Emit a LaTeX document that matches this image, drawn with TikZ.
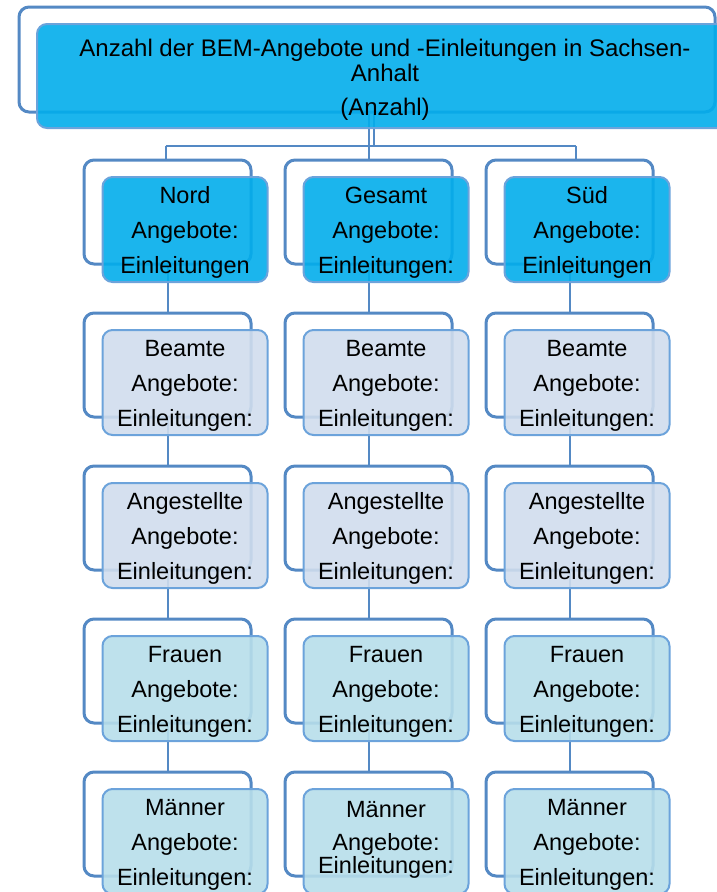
\documentclass[tikz,border=0pt]{standalone}
\usepackage{fontspec}
\setmainfont{Liberation Sans}

\definecolor{frameblue}{RGB}{84,137,196}
\definecolor{edgeblue}{RGB}{108,163,219}
\definecolor{headcyan}{RGB}{2,173,235}
\definecolor{staffgray}{RGB}{208,221,237}
\definecolor{genderteal}{RGB}{183,222,234}

\begin{document}
\begin{tikzpicture}[x=1pt, y=-1pt,
  backframe/.style={draw=frameblue, line width=3pt, rounded corners=10pt,
    minimum width=167pt, minimum height=104pt, inner sep=0pt},
  link/.style={draw=frameblue, line width=2pt},
  unitbox/.style={draw=edgeblue, line width=2pt, rounded corners=10pt,
    fill opacity=.9, text opacity=1, align=center, inner sep=0pt,
    minimum width=165pt, text height=96.5pt, text depth=8.5pt,
    font=\fontsize{23.5}{35}\selectfont},
  headbox/.style={unitbox, fill=headcyan},
  staffbox/.style={unitbox, fill=staffgray},
  genderbox/.style={unitbox, fill=genderteal}]
\useasboundingbox (0,0) rectangle (717,892);

% Frames behind the boxes
\node[backframe, minimum width=696pt, minimum height=105pt] (titleF) at (367,59.5) {};

\node[backframe] (nordF) at (167.5,212) {};
\node[backframe] (nordbeamteF) at (167.5,365) {};
\node[backframe] (nordangestF) at (167.5,518) {};
\node[backframe] (nordfrauenF) at (167.5,671) {};
\node[backframe] (nordmaennerF) at (167.5,824) {};

\node[backframe] (gesamtF) at (368.5,212) {};
\node[backframe] (gesamtbeamteF) at (368.5,365) {};
\node[backframe] (gesamtangestF) at (368.5,518) {};
\node[backframe] (gesamtfrauenF) at (368.5,671) {};
\node[backframe] (gesamtmaennerF) at (368.5,824) {};

\node[backframe] (suedF) at (569.5,212) {};
\node[backframe] (suedbeamteF) at (569.5,365) {};
\node[backframe] (suedangestF) at (569.5,518) {};
\node[backframe] (suedfrauenF) at (569.5,671) {};
\node[backframe] (suedmaennerF) at (569.5,824) {};

% Branches below the title
\coordinate (riser) at (374,146);
\coordinate (barL) at (165.5,146);
\coordinate (barR) at (575.5,146);
\draw[link] (titleF.south -| gesamtF.north) -- (gesamtF.north);
\draw[link] (riser |- titleF.south) -- (riser);
\draw[link, line width=2.5pt] (barL) -- (barR);
\draw[link] (barL) -- (barL |- nordF.north);
\draw[link] (barR) -- (barR |- suedF.north);

% Columns
\draw[link] (nordF.south) -- (nordbeamteF.north);
\draw[link] (nordbeamteF.south) -- (nordangestF.north);
\draw[link] (nordangestF.south) -- (nordfrauenF.north);
\draw[link] (nordfrauenF.south) -- (nordmaennerF.north);

\draw[link] (gesamtF.south) -- (gesamtbeamteF.north);
\draw[link] (gesamtbeamteF.south) -- (gesamtangestF.north);
\draw[link] (gesamtangestF.south) -- (gesamtfrauenF.north);
\draw[link] (gesamtfrauenF.south) -- (gesamtmaennerF.north);

\draw[link] (suedF.south) -- (suedbeamteF.north);
\draw[link] (suedbeamteF.south) -- (suedangestF.north);
\draw[link] (suedangestF.south) -- (suedfrauenF.north);
\draw[link] (suedfrauenF.south) -- (suedmaennerF.north);

% Title box
\node[headbox, minimum width=696pt, text height=91.6pt, text depth=12.4pt,
  font=\fontsize{24}{25}\selectfont]
  (title) at (385,76)
  {Anzahl der BEM-Angebote und -Einleitungen in Sachsen-\\Anhalt\\[9pt](Anzahl)};

% Nord
\node[headbox] (nord) at (185,229.5) {Nord\\Angebote:\\Einleitungen};
\node[staffbox] (nordbeamte) at (185,382.5) {Beamte\\Angebote:\\Einleitungen:};
\node[staffbox] (nordangest) at (185,535.5) {Angestellte\\Angebote:\\Einleitungen:};
\node[genderbox] (nordfrauen) at (185,688.5) {Frauen\\Angebote:\\Einleitungen:};
\node[genderbox] (nordmaenner) at (185,841.5) {Männer\\Angebote:\\Einleitungen:};

% Gesamt
\node[headbox] (gesamt) at (386,229.5) {Gesamt\\Angebote:\\Einleitungen:};
\node[staffbox] (gesamtbeamte) at (386,382.5) {Beamte\\Angebote:\\Einleitungen:};
\node[staffbox] (gesamtangest) at (386,535.5) {Angestellte\\Angebote:\\Einleitungen:};
\node[genderbox] (gesamtfrauen) at (386,688.5) {Frauen\\Angebote:\\Einleitungen:};
\node[genderbox, text height=84.5pt, text depth=20.5pt] (gesamtmaenner) at (386,841.5)
  {Männer\\[-2pt]Angebote:\\[-12pt]Einleitungen:};

% Sued
\node[headbox] (sued) at (587,229.5) {Süd\\Angebote:\\Einleitungen};
\node[staffbox] (suedbeamte) at (587,382.5) {Beamte\\Angebote:\\Einleitungen:};
\node[staffbox] (suedangest) at (587,535.5) {Angestellte\\Angebote:\\Einleitungen:};
\node[genderbox] (suedfrauen) at (587,688.5) {Frauen\\Angebote:\\Einleitungen:};
\node[genderbox] (suedmaenner) at (587,841.5) {Männer\\Angebote:\\Einleitungen:};

\end{tikzpicture}
\end{document}
